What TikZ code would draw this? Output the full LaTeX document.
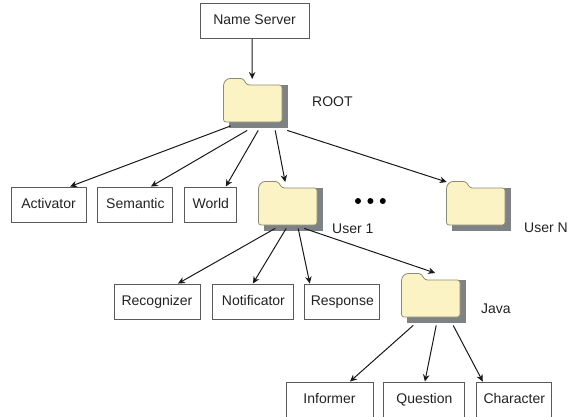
\documentclass[tikz,border=0pt]{standalone}
\usepackage{fontspec}
\setmainfont{Liberation Sans}
\usepackage{xcolor}
\usetikzlibrary{positioning, arrows.meta}
\definecolor{foldercolor}{HTML}{FBF3C3}
\definecolor{folderline}{HTML}{8C8C74}
\definecolor{foldershadow}{HTML}{7E8285}
\definecolor{boxline}{HTML}{5A5A5A}
\definecolor{inkcolor}{HTML}{222222}

\tikzset{
    box/.style={draw=boxline,line width=0.9pt,minimum height=35pt,inner sep=0pt,text=inkcolor,
        text height=10pt,text depth=3pt,font=\fontsize{14}{16}\selectfont},
    tag/.style={inner sep=0pt,text=inkcolor,font=\fontsize{14}{16}\selectfont},
    spot/.style={circle,fill=black,inner sep=0pt,minimum size=6pt},
    link/.style={-{Stealth[length=7pt,width=6.5pt]},line width=1pt,color=black!90},
    folder/.style={minimum width=65pt,minimum height=49.5pt,inner sep=0pt,anchor=north west},
}
\newcommand{\foldernode}[3]{
    \node[folder] (#1) at (#2,#3) {};
    \begin{scope}[shift={(#2,#3)}]
        \fill[foldershadow] (6,7) rectangle (65,49.5);
        \draw[fill=foldercolor,draw=folderline,line width=0.8pt,rounded corners=2.5pt]
            (0.5,44) -- (0.5,5) -- (4.5,0.5) -- (20,0.5) -- (24,7) -- (59,7) -- (59,44) -- cycle;
    \end{scope}
}

\begin{document}
\begin{tikzpicture}[x=1pt,y=-1pt]
        \useasboundingbox (0,0) rectangle (573,416);

        \node[box,minimum width=109pt] (nameserver) at (254.5,21) {Name Server};

        \foldernode{root}{223}{78}
        \node[tag,anchor=west] (rootlabel) at (312,102) {ROOT};

        % first row
        \node[box,minimum width=75pt] (activator) at (48.5,204.5) {Activator};
        \node[box,minimum width=75pt] (semantic) [right = 11pt of activator] {Semantic};
        \node[box,minimum width=52pt] (world) [right = 11pt of semantic] {World};

        \foldernode{user1}{258}{181}
        \node[tag,anchor=west] (user1label) at (332,229) {User 1};
        \foldernode{userN}{446}{181}
        \node[tag,anchor=west] (userNlabel) at (524,228) {User N};

        \node[spot] (dot1) at (358,201) {};
        \node[spot] (dot2) [right = 6pt of dot1] {};
        \node[spot] (dot3) [right = 6pt of dot2] {};

        % second row
        \node[box,minimum width=86pt] (recognizer) at (157,301.5) {Recognizer};
        \node[box,minimum width=81pt] (notificator) [right = 12pt of recognizer] {Notificator};
        \node[box,minimum width=75pt] (response) [right = 10pt of notificator] {Response};

        \foldernode{java}{401}{273}
        \node[tag,anchor=west] (javalabel) at (481,309) {Java};

        % third row
        \node[box,minimum width=87pt] (informer) at (329.5,399.5) {Informer};
        \node[box,minimum width=81pt] (question) [right = 10pt of informer] {Question};
        \node[box,minimum width=75pt] (character) [right = 11pt of question] {Character};

        \draw[link] ([xshift=-2.5pt]nameserver.south) -- ([xshift=-3.5pt,yshift=-1pt]root.north);

        \draw[link] ([xshift=-25pt,yshift=2pt]root.south) -- ([xshift=21.5pt]activator.north);
        \draw[link] ([xshift=-8.5pt,yshift=-2.5pt]root.south) -- ([xshift=15.5pt]semantic.north);
        \draw[link] ([xshift=2.5pt,yshift=-2.5pt]root.south) -- ([xshift=15pt]world.north);
        \draw[link] ([xshift=19.5pt,yshift=-2.5pt]root.south) -- ([xshift=-5.5pt,yshift=-1pt]user1.north);
        \draw[link] ([xshift=31.5pt,yshift=-2.5pt]root.south) -- ([xshift=-32pt,yshift=-1pt]userN.north);

        \draw[link] ([xshift=-15.5pt,yshift=2.5pt]user1.south) -- ([xshift=21pt]recognizer.north);
        \draw[link] ([xshift=-4.5pt,yshift=2.5pt]user1.south) -- ([xshift=-0.5pt]notificator.north);
        \draw[link] ([xshift=7.5pt,yshift=2.5pt]user1.south) -- ([xshift=-32.5pt]response.north);
        \draw[link] ([xshift=13.5pt,yshift=2.5pt]user1.south) -- ([xshift=1.5pt]java.north);

        \draw[link] ([xshift=-20.5pt,yshift=-2.5pt]java.south) -- ([xshift=20.5pt]informer.north);
        \draw[link] ([xshift=2.5pt,yshift=-2.5pt]java.south) -- ([xshift=0.5pt]question.north);
        \draw[link] ([xshift=19.5pt,yshift=-2.5pt]java.south) -- ([xshift=-31.5pt]character.north);

    \end{tikzpicture}
\end{document}
